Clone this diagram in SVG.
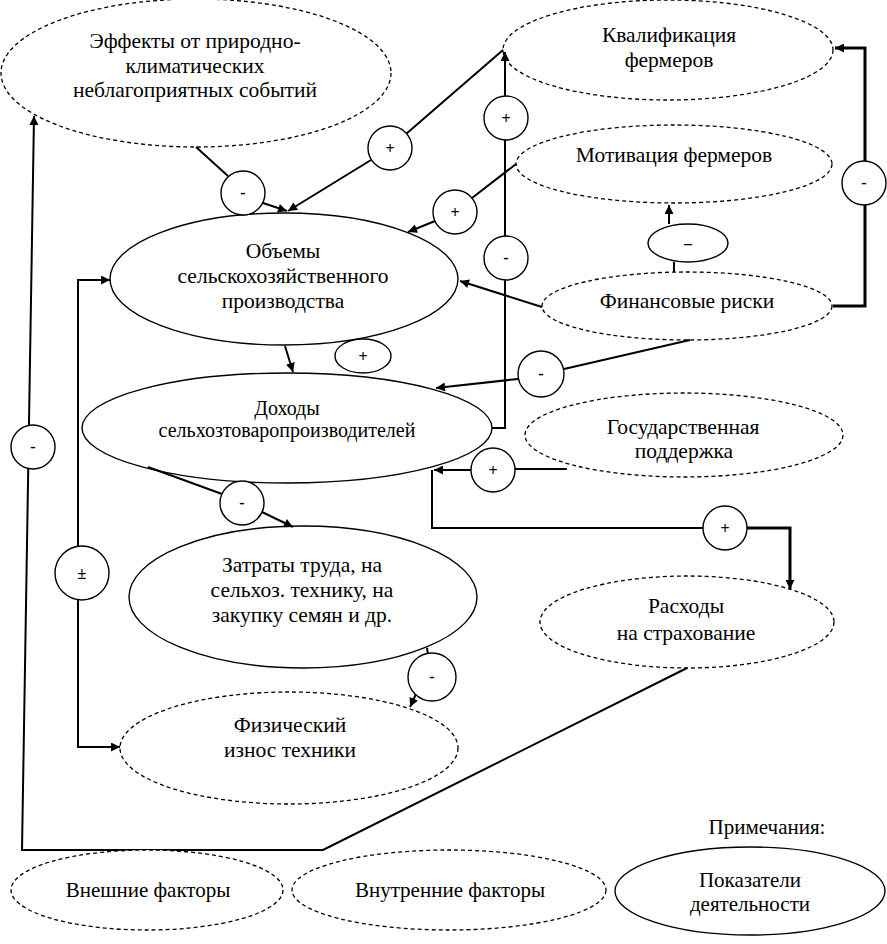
<svg xmlns="http://www.w3.org/2000/svg" width="887" height="944" viewBox="0 0 887 944">
<defs>
<marker id="a" viewBox="0 0 10 10" refX="10" refY="5" markerWidth="12" markerHeight="9" markerUnits="userSpaceOnUse" orient="auto-start-reverse"><path d="M0,0 L10,5 L0,10 z" fill="#000"/></marker>
</defs>
<style>
.sol{fill:#fff;stroke:#000;stroke-width:1.4}
.dsh{fill:#fff;stroke:#000;stroke-width:1.3;stroke-dasharray:4 3}
.sg{fill:#fff;stroke:#000;stroke-width:1.4}
.ln{fill:none;stroke:#000;stroke-width:2}
.th{fill:none;stroke:#000;stroke-width:3}
text{font-family:"Liberation Serif","Times New Roman",serif;font-size:21.5px;text-anchor:middle;fill:#000}
.s{font-size:20px}
.sgn{font-size:16px;font-weight:bold}
.lg{font-size:21px}
</style>
<rect width="887" height="944" fill="#fff"/>
<g id="nodes">
<g id="n-effects"><ellipse class="dsh" cx="196" cy="73" rx="195" ry="74"/><text x="195" y="48">Эффекты от природно-</text><text x="195" y="73">климатических</text><text x="195" y="97">неблагоприятных событий</text></g>
<g id="n-qual"><ellipse class="dsh" cx="668" cy="50" rx="165" ry="50"/><text x="669" y="42">Квалификация</text><text x="669" y="67">фермеров</text></g>
<g id="n-motiv"><ellipse class="dsh" cx="674" cy="164" rx="158" ry="39"/><text x="674" y="162">Мотивация фермеров</text></g>
<g id="n-volume"><ellipse class="sol" cx="284" cy="279" rx="174" ry="66"/><text x="283" y="258">Объемы</text><text x="283" y="283">сельскохозяйственного</text><text x="283" y="308">производства</text></g>
<g id="n-fin"><ellipse class="dsh" cx="687" cy="306" rx="145" ry="34"/><text x="687" y="308">Финансовые риски</text></g>
<g id="n-income"><ellipse class="sol" cx="287" cy="428" rx="205" ry="55"/><text class="s" x="287" y="415">Доходы</text><text class="s" x="287" y="437">сельхозтоваропроизводителей</text></g>
<g id="n-gov"><ellipse class="dsh" cx="684" cy="435" rx="159" ry="42"/><text x="683" y="434">Государственная</text><text x="684" y="458">поддержка</text></g>
<g id="n-costs"><ellipse class="sol" cx="303" cy="597" rx="174" ry="71"/><text x="302" y="572">Затраты труда, на</text><text x="302" y="597">сельхоз. технику, на</text><text x="302" y="622">закупку семян и др.</text></g>
<g id="n-insur"><ellipse class="dsh" cx="687" cy="622" rx="147" ry="46"/><text x="686" y="613">Расходы</text><text x="686" y="640">на страхование</text></g>
<g id="n-wear"><ellipse class="dsh" cx="289" cy="748" rx="169" ry="56"/><text x="290" y="732">Физический</text><text x="290" y="757">износ техники</text></g>
</g>
<g id="connectors">
<path class="ln" d="M196,147 L228,176"/>
<path class="ln" d="M263,203 L287,211" marker-end="url(#a)"/>
<path class="ln" d="M503,50 L406,134"/>
<path class="ln" d="M371,160 L288,211" marker-end="url(#a)"/>
<path class="ln" d="M516,164 L472,198"/>
<path class="ln" d="M435,221 L408,232" marker-end="url(#a)"/>
<path class="ln" d="M492,428 L505,428 L505,52" marker-end="url(#a)"/>
<path class="ln" d="M542,307 L460,281" marker-end="url(#a)"/>
<path class="ln" d="M674,272 L674,262"/>
<path class="ln" d="M669,224 L669,205" marker-end="url(#a)"/>
<path class="th" d="M833,306 L865,306 L865,48 L835,48" marker-end="url(#a)"/>
<path class="ln" d="M690,340 L564,369"/>
<path class="ln" d="M518,379 L436,388" marker-end="url(#a)"/>
<path class="ln" d="M285,346 L293,372" marker-end="url(#a)"/>
<path class="ln" d="M567,469 L515,469"/>
<path class="ln" d="M471,470 L434,470" marker-end="url(#a)"/>
<path class="ln" d="M432,470 L432,528 L703,528"/>
<path class="th" d="M747,528 L790,528 L790,589" marker-end="url(#a)"/>
<path class="ln" d="M148,467 L222,494"/>
<path class="ln" d="M262,512 L293,527" marker-end="url(#a)"/>
<path class="ln" d="M427,648 L428,655"/>
<path class="ln" d="M416,694 L410,707" marker-end="url(#a)"/>
<path class="ln" d="M110,280 L78,280 L78,747 L120,747" marker-start="url(#a)" marker-end="url(#a)"/>
<path class="ln" d="M687,668 L323,850 L22,850 L34,116" marker-end="url(#a)"/>
<g id="signs">
<circle class="sg" cx="243" cy="193" r="22"/><text class="sgn" x="243" y="198">-</text>
<circle class="sg" cx="390" cy="148" r="22"/><text class="sgn" x="390" y="154">+</text>
<circle class="sg" cx="455" cy="212" r="22"/><text class="sgn" x="455" y="218">+</text>
<circle class="sg" cx="506" cy="118" r="22"/><text class="sgn" x="506" y="124">+</text>
<circle class="sg" cx="506" cy="258" r="22"/><text class="sgn" x="506" y="263">-</text>
<ellipse class="sg" cx="688" cy="243" rx="40" ry="19"/><text class="sgn" x="688" y="249">–</text>
<circle class="sg" cx="864" cy="183" r="22"/><text class="sgn" x="864" y="188">-</text>
<circle class="sg" cx="541" cy="374" r="23"/><text class="sgn" x="541" y="379">-</text>
<ellipse class="sg" cx="363" cy="356" rx="28" ry="17"/><text class="sgn" x="363" y="362">+</text>
<circle class="sg" cx="493" cy="470" r="22"/><text class="sgn" x="493" y="476">+</text>
<circle class="sg" cx="725" cy="528" r="22"/><text class="sgn" x="725" y="534">+</text>
<circle class="sg" cx="242" cy="503" r="22"/><text class="sgn" x="242" y="508">-</text>
<circle class="sg" cx="432" cy="677" r="24"/><text class="sgn" x="432" y="682">-</text>
<circle class="sg" cx="82" cy="573" r="27"/><text class="sgn" x="82" y="579">±</text>
<circle class="sg" cx="33" cy="447" r="22"/><text class="sgn" x="33" y="452">-</text>
</g>
</g>
<g id="legend">
<text class="lg" x="767" y="834">Примечания:</text>
<g id="lg-ext"><ellipse class="dsh" cx="147" cy="890" rx="136" ry="40"/><text class="lg" x="148" y="897">Внешние факторы</text></g>
<g id="lg-int"><ellipse class="dsh" cx="449" cy="890" rx="157" ry="40"/><text class="lg" x="450" y="897">Внутренние факторы</text></g>
<g id="lg-ind"><ellipse class="sol" cx="750" cy="891" rx="135" ry="44"/><text class="lg" x="750" y="887">Показатели</text><text class="lg" x="750" y="911">деятельности</text></g>
</g>
</svg>
